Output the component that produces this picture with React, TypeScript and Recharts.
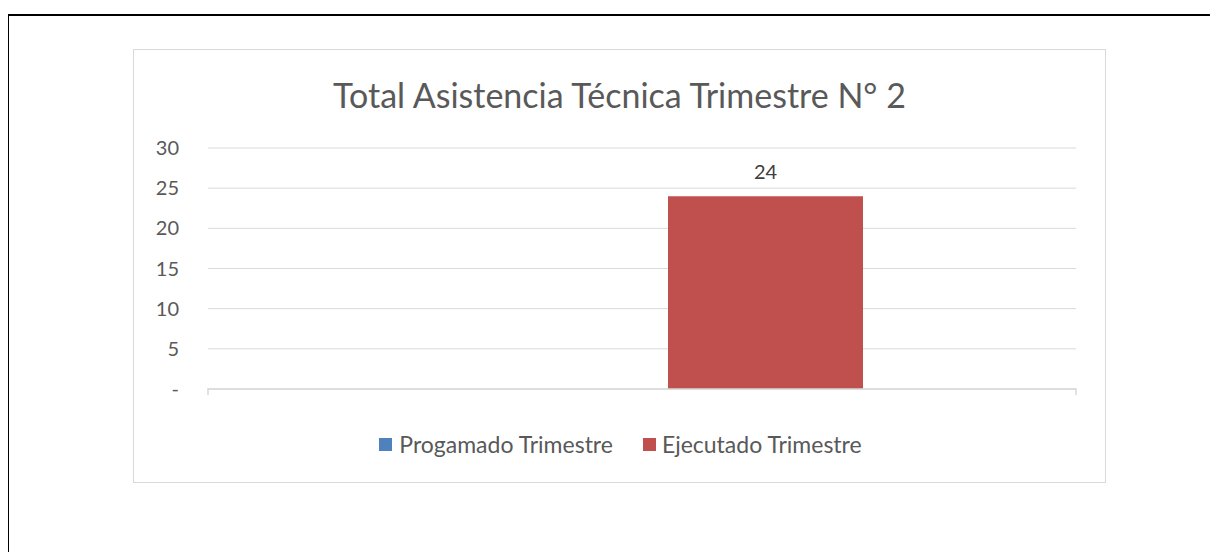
import { BarChart, Bar, XAxis, YAxis, CartesianGrid, LabelList } from 'recharts'

const categories = ['Trimestre 2']
const programado = [0]
const ejecutado = [24]
const yTicks = [0, 5, 10, 15, 20, 25, 30]

const data = categories.map((name, i) => ({
  name,
  programado: programado[i],
  ejecutado: ejecutado[i],
}))

const FONT = 'Lato, "Open Sans", sans-serif'
const TEXT = '#595959'
const GRID = '#d9d9d9'

// Excel draws the category tick marks at the band edges, not at the centre
const EdgeTicks = (props: any) => {
  const { x, y, payload } = props
  const half = payload?.offset ?? 0
  return (
    <g>
      <line x1={x - half} x2={x - half} y1={y - 1} y2={y + 6} stroke={GRID} strokeWidth={1.5} />
      <line x1={x + half} x2={x + half} y1={y - 1} y2={y + 6} stroke={GRID} strokeWidth={1.5} />
    </g>
  )
}

const LegendRow = () => (
  <div
    style={{
      position: 'absolute',
      left: 0,
      width: 973,
      top: 380,
      display: 'flex',
      justifyContent: 'center',
      fontFamily: FONT,
      fontSize: 23,
      color: TEXT,
    }}
  >
    <span style={{ display: 'flex', alignItems: 'center', marginRight: 30 }}>
      <span style={{ width: 13, height: 13, background: '#4f81bd', marginRight: 7 }} />
      Progamado Trimestre
    </span>
    <span style={{ display: 'flex', alignItems: 'center' }}>
      <span style={{ width: 13, height: 13, background: '#c0504d', marginRight: 6 }} />
      Ejecutado Trimestre
    </span>
  </div>
)

export default function App() {
  return (
    <div style={{ position: 'relative', width: 1210, height: 544 }}>
      <div
        style={{
          position: 'absolute',
          left: -1,
          top: 6,
          width: 1211,
          height: 538,
          borderTop: '2px solid #000',
          borderLeft: '2px solid #000',
          boxSizing: 'border-box',
        }}
      />
      <div
        style={{
          position: 'absolute',
          left: 125,
          top: 41,
          width: 973,
          height: 434,
          border: '1.5px solid #d9d9d9',
          boxSizing: 'border-box',
          background: '#fff',
        }}
      >
        <div
          style={{
            position: 'absolute',
            top: 24,
            width: '100%',
            textAlign: 'center',
            fontFamily: FONT,
            fontSize: 34,
            color: TEXT,
          }}
        >
          Total Asistencia Técnica Trimestre N° 2
        </div>
        <div style={{ position: 'absolute', left: -1.5, top: -1.5 }}>
          <BarChart
            width={973}
            height={434}
            data={data}
            margin={{ top: 99, right: 30, left: 0, bottom: 84 }}
            barCategoryGap={213}
            barGap={52}
          >
            <CartesianGrid vertical={false} stroke={GRID} />
            <XAxis
              dataKey="name"
              height={10}
              tickSize={0}
              tickMargin={0}
              tickLine={false}
              axisLine={{ stroke: GRID, strokeWidth: 1.5 }}
              tick={<EdgeTicks />}
            />
            <YAxis
              domain={[0, 30]}
              ticks={yTicks}
              width={75}
              axisLine={false}
              tickLine={false}
              tickSize={0}
              tickMargin={29}
              tickFormatter={(v: number) => (v === 0 ? '-' : String(v))}
              tick={{ fill: TEXT, fontSize: 20, fontFamily: FONT }}
            />
            <Bar dataKey="programado" fill="#4f81bd" isAnimationActive={false} />
            <Bar dataKey="ejecutado" fill="#c0504d" isAnimationActive={false}>
              <LabelList
                dataKey="ejecutado"
                position="top"
                offset={17}
                style={{ fill: '#404040', fontSize: 20, fontFamily: FONT }}
              />
            </Bar>
          </BarChart>
        </div>
        <LegendRow />
      </div>
    </div>
  )
}
